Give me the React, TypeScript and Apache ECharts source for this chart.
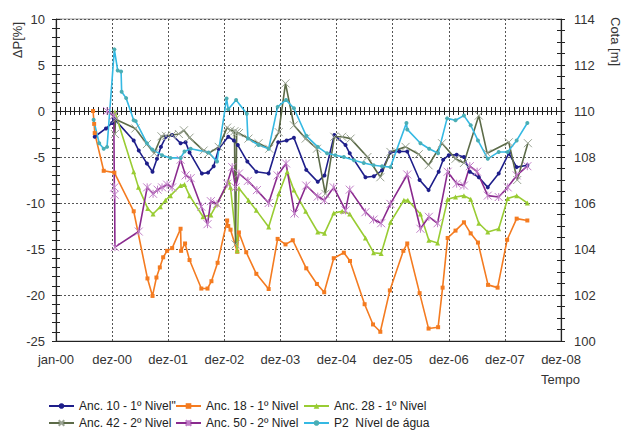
import React, { useEffect, useRef } from 'react';
import * as echarts from 'echarts';

// x values: time in years since 1 Jan 2000 (one axis step = 365 days)
const xTickLabels = ['jan-00', 'dez-00', 'dez-01', 'dez-02', 'dez-03', 'dez-04', 'dez-05', 'dez-06', 'dez-07', 'dez-08'];
const leftTicks = { min: -25, max: 10, step: 5 };
const rightTicks = { min: 100, max: 114, step: 2 };

const seriesNames = [
  'Anc. 10 - 1º Nivel"',
  'Anc. 18 - 1º Nivel',
  'Anc. 28 - 1º Nivel',
  'Anc. 42 - 2º Nivel',
  'Anc. 50 - 2º Nivel',
  'P2  Nível de água',
];

// ΔP [%]
const anc10 = [[0.69,-2.8],[0.89,-1.9],[1.0,-1.3],[1.03,-0.8],[1.385,-3.2],[1.475,-4.3],[1.62,-5.7],[1.72,-6.6],[1.80,-5.2],[1.87,-3.9],[1.96,-2.8],[2.07,-2.6],[2.22,-3.5],[2.31,-3.4],[2.38,-4.5],[2.60,-6.8],[2.71,-6.7],[2.81,-6.0],[2.90,-4.1],[3.07,-2.8],[3.17,-3.2],[3.24,-3.7],[3.41,-5.5],[3.57,-6.6],[3.79,-6.8],[3.96,-3.4],[4.11,-3.2],[4.24,-2.9],[4.46,-6.4],[4.665,-7.7],[4.785,-7.0],[4.96,-2.6],[5.16,-3.7],[5.235,-4.6],[5.515,-7.2],[5.665,-7.1],[5.81,-6.45],[5.96,-4.5],[6.12,-4.4],[6.26,-4.4],[6.48,-7.5],[6.64,-8.6],[6.82,-6.6],[6.90,-5.3],[7.00,-4.8],[7.14,-4.75],[7.27,-5.0],[7.375,-6.6],[7.535,-7.2],[7.695,-8.3],[7.89,-6.8],[8.07,-4.6],[8.21,-6.1],[8.40,-5.9]];
const anc18 = [[0.66,0.0],[0.68,-1.4],[0.69,-2.4],[0.85,-6.5],[1.04,-6.7],[1.385,-10.9],[1.63,-18.2],[1.72,-20.1],[1.79,-18.1],[1.85,-17.0],[1.91,-15.9],[1.98,-15.2],[2.07,-14.9],[2.22,-12.8],[2.23,-15.2],[2.30,-14.4],[2.38,-16.2],[2.59,-19.3],[2.70,-19.3],[2.77,-18.5],[2.88,-16.5],[3.05,-11.9],[3.07,-12.5],[3.11,-12.9],[3.23,-15.3],[3.26,-13.2],[3.39,-15.35],[3.57,-17.7],[3.79,-19.35],[3.95,-13.9],[4.09,-14.5],[4.22,-14.05],[4.46,-17.1],[4.65,-18.8],[4.78,-19.7],[4.95,-16.0],[5.13,-15.4],[5.24,-16.3],[5.50,-21.0],[5.65,-23.2],[5.78,-24.0],[5.95,-19.5],[6.19,-15.2],[6.26,-14.4],[6.48,-19.8],[6.64,-23.65],[6.81,-23.5],[6.89,-19.2],[6.98,-13.8],[7.12,-13.0],[7.27,-12.1],[7.39,-13.3],[7.52,-14.3],[7.70,-18.9],[7.87,-19.2],[8.04,-14.0],[8.21,-11.7],[8.40,-11.9]];
const anc28 = [[1.05,-0.1],[1.385,-6.6],[1.47,-8.3],[1.635,-10.6],[1.73,-11.2],[1.86,-10.4],[1.95,-9.7],[2.04,-9.2],[2.22,-8.1],[2.29,-8.0],[2.38,-9.2],[2.62,-11.5],[2.76,-11.3],[2.87,-10.1],[3.08,-7.7],[3.11,-8.3],[3.23,-15.2],[3.26,-8.4],[3.43,-9.7],[3.57,-10.8],[3.79,-12.6],[3.97,-9.0],[4.12,-6.6],[4.24,-8.6],[4.45,-10.9],[4.665,-13.15],[4.785,-13.3],[4.95,-11.1],[5.10,-10.9],[5.235,-11.2],[5.515,-13.8],[5.66,-15.4],[5.795,-15.5],[5.96,-12.1],[6.20,-9.7],[6.27,-9.7],[6.495,-11.2],[6.645,-14.05],[6.80,-14.35],[6.98,-9.6],[7.12,-9.35],[7.27,-9.2],[7.39,-9.6],[7.535,-12.2],[7.695,-13.15],[7.89,-12.8],[8.05,-9.5],[8.21,-9.2],[8.40,-10.0]];
const anc42 = [[1.03,-0.5],[1.05,-2.5],[1.06,-0.9],[1.415,-1.9],[1.62,-3.6],[1.75,-4.6],[1.88,-2.75],[1.96,-2.7],[2.07,-2.6],[2.19,-2.5],[2.28,-2.1],[2.38,-2.9],[2.63,-4.3],[2.72,-4.6],[2.90,-3.9],[3.05,-1.8],[3.11,-2.1],[3.18,-2.2],[3.20,-14.5],[3.22,-2.3],[3.26,-2.4],[3.43,-3.0],[3.61,-3.5],[3.80,-4.1],[3.97,-2.3],[4.09,3.0],[4.24,-1.55],[4.45,-3.0],[4.65,-4.1],[4.80,-9.0],[4.96,-2.8],[5.10,-2.8],[5.25,-3.0],[5.55,-5.0],[5.78,-7.2],[5.96,-4.45],[6.23,-3.9],[6.465,-4.7],[6.64,-5.9],[6.88,-3.5],[7.12,-5.2],[7.27,-5.65],[7.535,-0.5],[7.685,-4.6],[8.07,-3.4],[8.22,-7.5],[8.41,-3.5]];
const anc50 = [[0.91,0.0],[1.03,-0.5],[1.04,-8.3],[1.045,-9.1],[1.05,-14.8],[1.475,-13.1],[1.625,-8.3],[1.73,-9.0],[1.81,-8.55],[1.89,-8.3],[1.98,-8.0],[2.07,-8.3],[2.22,-5.3],[2.31,-7.0],[2.40,-7.3],[2.59,-10.4],[2.70,-12.3],[2.76,-9.8],[2.87,-10.1],[3.05,-7.9],[3.14,-6.1],[3.20,-8.3],[3.26,-6.8],[3.42,-7.6],[3.58,-8.6],[3.79,-10.0],[3.95,-7.0],[4.10,-5.7],[4.25,-11.15],[4.46,-8.1],[4.665,-9.3],[4.785,-9.7],[4.95,-8.3],[5.16,-10.8],[5.235,-8.55],[5.515,-11.0],[5.66,-11.8],[5.795,-12.2],[5.96,-10.1],[6.26,-6.9],[6.495,-12.8],[6.645,-11.5],[6.80,-12.2],[6.98,-6.6],[7.14,-7.9],[7.27,-8.1],[7.375,-6.0],[7.505,-6.6],[7.695,-9.2],[7.89,-9.35],[8.05,-8.3],[8.21,-7.0],[8.40,-6.0]];
// Cota [m]
const p2 = [[0.67,109.62],[0.77,108.6],[0.85,108.36],[0.91,108.44],[1.04,112.68],[1.10,111.76],[1.16,111.72],[1.17,110.84],[1.25,110.56],[1.385,109.6],[1.42,109.56],[1.62,108.6],[1.72,108.32],[1.89,108.08],[2.04,107.96],[2.22,107.96],[2.29,108.24],[2.40,108.36],[2.72,108.2],[2.87,107.8],[3.04,110.54],[3.07,110.08],[3.21,110.48],[3.40,109.88],[3.42,108.8],[3.61,108.52],[3.79,108.36],[3.95,110.18],[4.10,110.48],[4.24,110.12],[4.46,108.92],[4.665,108.44],[4.83,108.16],[4.98,108.08],[5.13,108.0],[5.31,107.86],[5.485,107.74],[5.66,107.64],[5.81,107.6],[5.96,107.56],[6.245,109.48],[6.26,109.2],[6.495,108.6],[6.65,108.36],[6.81,108.16],[6.97,109.68],[7.12,109.6],[7.27,109.8],[7.39,109.38],[7.52,108.72],[7.695,107.92],[7.89,108.22],[8.05,108.22],[8.21,108.72],[8.40,109.48]];

const FONT = "'Liberation Sans', Arial, sans-serif";
const TXT = '#333333';
const X_PATH = 'path://M0,0L10,10M10,0L0,10';
const STAR_PATH = 'path://M5,0L5,10M0,0L10,10M10,0L0,10';

function lineSeries(name: string, data: number[][], lineColor: string, symbol: string, symbolSize: number, markColor: string, stroked: boolean, yAxisIndex = 0) {
  return {
    type: 'line',
    name,
    data,
    xAxisIndex: 0,
    yAxisIndex,
    symbol,
    symbolSize,
    showAllSymbol: true,
    lineStyle: { color: lineColor, width: 1.6 },
    itemStyle: stroked
      ? { color: 'none', borderColor: markColor, borderWidth: 1 }
      : { color: markColor, borderWidth: 0 },
    emphasis: { disabled: true },
  };
}

// legend slot per series: [icon left px, row]
const legendSlots = [[48, 0], [175, 0], [303, 0], [48, 1], [175, 1], [303, 1]];

export default function App() {
  const ref = useRef<HTMLDivElement>(null);
  useEffect(() => {
    const chart = echarts.init(ref.current!, null, { renderer: 'svg' });
    const grid = { left: 56, top: 19, width: 505, height: 322, show: true, borderColor: '#9a9a9a', borderWidth: 1, backgroundColor: 'transparent' };
    const dashed = { show: true, lineStyle: { color: '#555', width: 1, type: [2, 2] } };
    const lineAx = { show: true, onZero: false, lineStyle: { color: '#222', width: 1.2 } };
    const labelStyle = { fontFamily: FONT, fontSize: 13, color: TXT };
    const option: any = {
      animation: false,
      backgroundColor: '#ffffff',
      grid,
      xAxis: [
        {
          type: 'value', position: 'bottom', min: 0, max: xTickLabels.length - 1, interval: 1,
          axisLine: lineAx, axisTick: { show: false },
          axisLabel: { ...labelStyle, margin: 12, formatter: (v: number) => xTickLabels[Math.round(v)] ?? '' },
          splitLine: dashed,
        },
        {
          type: 'value', position: 'bottom', min: 0, max: xTickLabels.length - 1, interval: 1,
          axisLine: { show: true, onZero: true, onZeroAxisIndex: 0, lineStyle: { color: '#222', width: 1.2 } },
          axisTick: { show: true, inside: false, length: 4, lineStyle: { color: '#222' } },
          minorTick: { show: true, splitNumber: 12, length: 4, lineStyle: { color: '#222' } },
          axisLabel: { show: false }, splitLine: { show: false },
        },
        {
          type: 'value', position: 'bottom', min: 0, max: xTickLabels.length - 1, interval: 1,
          axisLine: { show: false, onZero: true, onZeroAxisIndex: 0 },
          axisTick: { show: true, inside: true, length: 4, lineStyle: { color: '#222' } },
          minorTick: { show: true, splitNumber: 12, length: 4, lineStyle: { color: '#222' } },
          axisLabel: { show: false }, splitLine: { show: false },
        },
      ],
      yAxis: [
        {
          type: 'value', position: 'left', min: leftTicks.min, max: leftTicks.max, interval: leftTicks.step,
          axisLine: lineAx,
          axisTick: { show: true, length: 4, lineStyle: { color: '#222' } },
          minorTick: { show: true, splitNumber: 5, length: 4, lineStyle: { color: '#222' } },
          axisLabel: { ...labelStyle, margin: 11 },
          splitLine: dashed,
        },
        {
          type: 'value', position: 'right', min: rightTicks.min, max: rightTicks.max, interval: rightTicks.step,
          axisLine: lineAx,
          axisTick: { show: true, length: 4, lineStyle: { color: '#222' } },
          minorTick: { show: true, splitNumber: 4, length: 4, lineStyle: { color: '#222' } },
          axisLabel: { ...labelStyle, margin: 13 },
          splitLine: { show: false },
        },
        {
          type: 'value', position: 'left', min: leftTicks.min, max: leftTicks.max, interval: leftTicks.step,
          axisLine: { show: false, onZero: false },
          axisTick: { show: true, inside: true, length: 4, lineStyle: { color: '#222' } },
          minorTick: { show: true, splitNumber: 5, length: 4, lineStyle: { color: '#222' } },
          axisLabel: { show: false }, splitLine: { show: false },
        },
        {
          type: 'value', position: 'right', min: rightTicks.min, max: rightTicks.max, interval: rightTicks.step,
          axisLine: { show: false, onZero: false },
          axisTick: { show: true, inside: true, length: 4, lineStyle: { color: '#222' } },
          minorTick: { show: true, splitNumber: 4, length: 4, lineStyle: { color: '#222' } },
          axisLabel: { show: false }, splitLine: { show: false },
        },
      ],
      legend: seriesNames.map((name, i) => ({
        orient: 'horizontal',
        left: legendSlots[i][0],
        top: 400 + legendSlots[i][1] * 17,
        itemGap: 0, itemWidth: 25, itemHeight: 7,
        data: [name],
        textStyle: { fontFamily: FONT, fontSize: 12, color: '#222' },
        padding: 0,
        selectedMode: false,
      })),
      graphic: [
        { type: 'text', left: 11, top: 22, rotation: Math.PI / 2, style: { text: 'ΔP[%]', font: `13px ${FONT}`, fill: TXT } },
        { type: 'text', left: 609, top: 17, rotation: -Math.PI / 2, style: { text: 'Cota [m]', font: `13px ${FONT}`, fill: TXT } },
        { type: 'text', left: 541, top: 373, style: { text: 'Tempo', font: `13px ${FONT}`, fill: TXT } },
      ],
      series: [
        lineSeries(seriesNames[0], anc10, '#1e1e8a', 'circle', 4, '#1e1e8a', false),
        lineSeries(seriesNames[1], anc18, '#f47b20', 'rect', 4, '#f47b20', false),
        lineSeries(seriesNames[2], anc28, '#99cc33', 'triangle', 5, '#99cc33', false),
        lineSeries(seriesNames[3], anc42, '#5c6b48', X_PATH, 8, '#9aa393', true),
        lineSeries(seriesNames[4], anc50, '#8a2a8e', STAR_PATH, 8, '#c27fc8', true),
        lineSeries(seriesNames[5], p2, '#35b9e3', 'circle', 4, '#4aaeb4', false, 1),
      ],
    };
    chart.setOption(option);
    return () => chart.dispose();
  }, []);
  return <div ref={ref} style={{ position: 'fixed', left: 0, top: 0, width: 626, height: 432 }} />;
}
